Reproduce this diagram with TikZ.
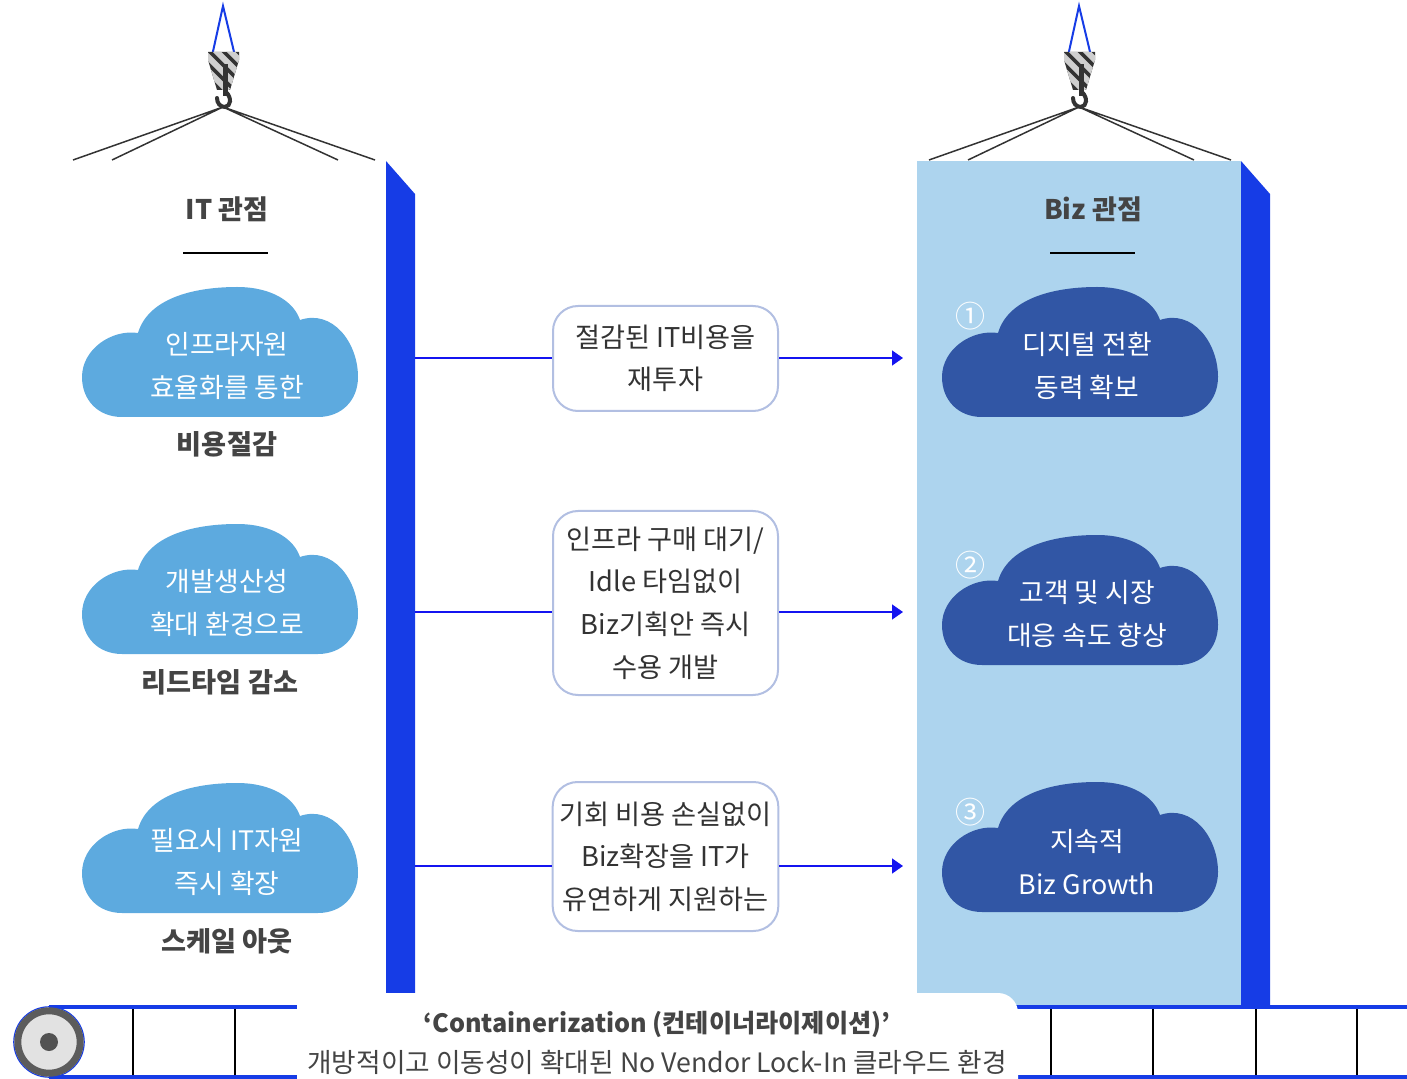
\documentclass[tikz,border=0pt]{standalone}
\usepackage{fontspec}
\setmainfont{Noto Sans CJK KR}
\usetikzlibrary{arrows.meta}

\definecolor{barblue}{HTML}{163CE6}
\definecolor{colblue}{HTML}{ADD4EE}
\definecolor{cloudlight}{HTML}{5DAADF}
\definecolor{clouddark}{HTML}{3156A5}
\definecolor{txtgray}{HTML}{444444}
\definecolor{boxedge}{HTML}{B2BFE2}
\definecolor{linkblue}{HTML}{1414F0}
\definecolor{hookdark}{HTML}{333333}
\definecolor{hooklight}{HTML}{CFCFCF}

\tikzset{
  cloudpic/.pic={
    \fill[#1] (40,130) .. controls (16,130) and (0,113) .. (0,90)
      .. controls (0,62) and (30,42) .. (56,46)
      .. controls (66,12) and (110,0) .. (155,0)
      .. controls (190,0) and (212,15) .. (218,33)
      .. controls (250,22) and (276,55) .. (276,90)
      .. controls (276,113) and (260,130) .. (236,130) -- cycle;
  },
  hookpic/.pic={
    % suspension rope
    \draw[barblue, line width=1pt] (-11,50) -- (0,0) -- (12,50);
    % hook block with hazard stripes
    \begin{scope}
      \clip (-15,46) -- (16,46) -- (16,54) -- (7,84) -- (-6,84) -- (-15,54) -- cycle;
      \fill[hookdark] (-20,40) rectangle (20,90);
      \foreach \s in {-40,-26,...,30}
        \draw[hooklight, line width=3pt] (\s,40) -- (\s+45,85);
    \end{scope}
    \fill[hookdark] (0,58) rectangle (5,90);
    % hook
    \draw[hookdark, line width=2pt, line cap=round]
      (3,86) .. controls (9,92) and (8,100) .. (2,101)
      .. controls (-3,101) and (-6,97) .. (-6,92);
    % slings
    \draw[hookdark, line width=0.75pt]
      (-150,154) -- (0,101) -- (-111,154)
      (115,154) -- (0,101) -- (152,154);
  },
  cloudtext/.style={text=white, align=center,
    font=\fontsize{13.4}{21.5}\selectfont},
  labeltext/.style={text=txtgray, font=\fontsize{13.6}{16}\selectfont\bfseries},
  titletext/.style={text=txtgray, font=\fontsize{13.5}{16}\selectfont\bfseries},
  numtext/.style={text=white, font=\fontsize{15}{17}\selectfont},
  msgbox/.style={draw=boxedge, line width=1pt, fill=white, rounded corners=12.5pt,
    minimum width=112.5pt, align=center, text=hookdark,
    font=\fontsize{13.6}{21.3}\selectfont},
  conn/.style={linkblue, line width=0.75pt},
  connarrow/.style={conn, -{Triangle[length=5.5pt,width=7.5pt]}},
  belt/.style={barblue, line width=2pt},
  slat/.style={black, line width=1.3pt},
}

\begin{document}
\begin{tikzpicture}[x=0.5pt,y=-0.5pt]
\useasboundingbox (0,0) rectangle (1407,1079);

% cranes
\pic at (223,6) {hookpic};
\pic at (1079,6) {hookpic};

% right column and the two uprights
\fill[colblue] (917,161) rectangle (1241,1005);
\fill[barblue] (386,161) -- (415,194) -- (415,993) -- (386,993) -- cycle;
\fill[barblue] (1241,161) -- (1270,194) -- (1270,1005) -- (1241,1005) -- cycle;

% column titles
\node[titletext] (itTitle) at (227,209) {IT 관점};
\node[titletext] (bizTitle) at (1093,209) {Biz 관점};
\draw[black, line width=1.2pt] (183,253) -- (268,253);
\draw[black, line width=1.2pt] (1050,253) -- (1135,253);

% IT clouds
\pic at (82,287) {cloudpic=cloudlight};
\pic at (82,524) {cloudpic=cloudlight};
\pic at (82,783) {cloudpic=cloudlight};
\node[cloudtext] (it1) at (227,366) {인프라자원\\효율화를 통한};
\node[cloudtext] (it2) at (227,603) {개발생산성\\확대 환경으로};
\node[cloudtext] (it3) at (227,862) {필요시 IT자원\\즉시 확장};
\node[labeltext] (itl1) at (227,444) {비용절감};
\node[labeltext] (itl2) at (220,682) {리드타임 감소};
\node[labeltext] (itl3) at (227,941) {스케일 아웃};

% Biz clouds
\pic at (942,287) {cloudpic=clouddark};
\pic at (942,535) {cloudpic=clouddark};
\pic at (942,782) {cloudpic=clouddark};
\node[cloudtext] (biz1) at (1087,366) {디지털 전환\\동력 확보};
\node[cloudtext] (biz2) at (1087,614) {고객 및 시장\\대응 속도 향상};
\node[cloudtext] (biz3) at (1087,862) {지속적\\Biz Growth};
\node[numtext] (n1) at (970,316) {①};
\node[numtext] (n2) at (970,565) {②};
\node[numtext] (n3) at (970,812) {③};

% middle messages
\node[msgbox, minimum height=52.5pt] (b1) at (665.5,358.5) {절감된 IT비용을\\재투자};
\node[msgbox, minimum height=92pt] (b2) at (665.5,603) {인프라 구매 대기/\\Idle 타임없이\\Biz기획안 즉시\\수용 개발};
\node[msgbox, minimum height=74.5pt] (b3) at (665.5,856.5) {기회 비용 손실없이\\Biz확장을 IT가\\유연하게 지원하는};

% connectors
\coordinate (s1) at (415,358);
\coordinate (s2) at (415,612);
\coordinate (s3) at (415,866);
\coordinate (t1) at (903,358);
\coordinate (t2) at (903,612);
\coordinate (t3) at (903,866);
\draw[conn] (s1) -- (s1 -| b1.west);
\draw[conn] (s2) -- (s2 -| b2.west);
\draw[conn] (s3) -- (s3 -| b3.west);
\draw[connarrow] (t1 -| b1.east) -- (t1);
\draw[connarrow] (t2 -| b2.east) -- (t2);
\draw[connarrow] (t3 -| b3.east) -- (t3);

% conveyor belt
\draw[barblue, line width=0.6pt] (49,1042) circle[radius=17.6pt];
\draw[belt] (49,1007) -- (297,1007);
\draw[belt] (49,1077) -- (297,1077);
\draw[belt] (1016,1007) -- (1407,1007);
\draw[belt] (1016,1077) -- (1407,1077);
\foreach \x in {133,235,1051,1153,1256,1357}
  \draw[slat] (\x,1009) -- (\x,1075);
\draw[fill=hooklight!60, draw=hookdark!80, line width=3.5pt] (49,1042) circle[radius=15.6pt];
\fill[hookdark!85] (49,1042) circle[radius=4.5pt];

% base plate with caption
\fill[white, rounded corners=10pt] (297,993) rectangle (1018,1120);
\node[text=txtgray, font=\fontsize{12.6}{15}\selectfont\bfseries] (cap1) at (657,1024)
  {‘Containerization (컨테이너라이제이션)’};
\node[text=txtgray, font=\fontsize{13.35}{15}\selectfont] (cap2) at (657,1062)
  {개방적이고 이동성이 확대된 No Vendor Lock-In 클라우드 환경};
\end{tikzpicture}
\end{document}
